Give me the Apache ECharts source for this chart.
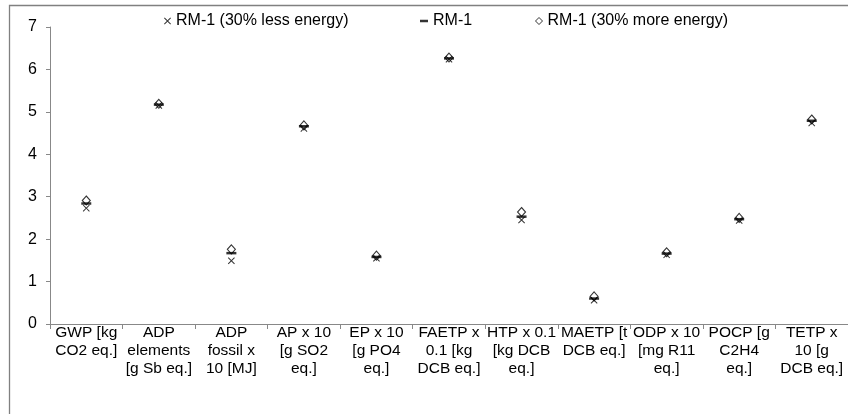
<!DOCTYPE html>
<html>
<head>
<meta charset="utf-8">
<script src="https://cdn.jsdelivr.net/npm/echarts@6/dist/echarts.min.js"></script>
<style>
html,body{margin:0;padding:0;background:#fff;}
#c{width:848px;height:414px;}
</style>
</head>
<body>
<div id="c"></div>
<script>
var categories = [
  'GWP [kg\nCO2 eq.]',
  'ADP\nelements\n[g Sb eq.]',
  'ADP\nfossil x\n10 [MJ]',
  'AP x 10\n[g SO2\neq.]',
  'EP x 10\n[g PO4\neq.]',
  'FAETP x\n0.1 [kg\nDCB eq.]',
  'HTP x 0.1\n[kg DCB\neq.]',
  'MAETP [t\nDCB eq.]',
  'ODP x 10\n[mg R11\neq.]',
  'POCP [g\nC2H4\neq.]',
  'TETP x\n10 [g\nDCB eq.]'
];
var lessEnergy = [2.73, 5.15, 1.49, 4.61, 1.55, 6.24, 2.45, 0.56, 1.63, 2.44, 4.74];
var baseCase   = [2.84, 5.17, 1.67, 4.66, 1.58, 6.26, 2.53, 0.60, 1.66, 2.47, 4.79];
var moreEnergy = [2.91, 5.19, 1.76, 4.68, 1.61, 6.28, 2.64, 0.65, 1.69, 2.50, 4.82];
var yTicks = [0, 1, 2, 3, 4, 5, 6, 7];
var seriesNames = ['RM-1 (30% less energy)', 'RM-1', 'RM-1 (30% more energy)'];

var FONT = '"Liberation Sans", Arial, sans-serif';
var crossPath = 'path://M0,1L1,0L5,4L9,0L10,1L6,5L10,9L9,10L5,6L1,10L0,9L4,5Z';

var chart = echarts.init(document.getElementById('c'), null, {renderer: 'canvas'});
function legendAt(name, left, icon, w, h, itemStyle) {
  return {
    data: [{name: name, icon: icon, itemStyle: itemStyle}],
    left: left, top: 13, padding: 0,
    itemWidth: w, itemHeight: h,
    textStyle: {fontFamily: FONT, fontSize: 16, color: '#000'},
    selectedMode: false
  };
}
chart.setOption({
  animation: false,
  backgroundColor: '#fff',
  graphic: [{
    type: 'rect',
    shape: {x: 9.5, y: 5.5, width: 860, height: 430},
    style: {fill: 'none', stroke: '#808080', lineWidth: 1.3},
    silent: true, z: -10
  }],
  legend: [
    legendAt(seriesNames[0], 164, crossPath, 7, 7, {color: '#000', borderWidth: 0}),
    legendAt(seriesNames[1], 420, 'rect', 8, 2.5, {color: '#000', borderWidth: 0}),
    legendAt(seriesNames[2], 535, 'diamond', 7, 7, {color: '#fff', borderColor: '#000', borderWidth: 1})
  ],
  grid: {left: 50, right: 0, top: 27, bottom: 90, containLabel: false},
  xAxis: {
    type: 'category',
    data: categories,
    boundaryGap: true,
    axisLine: {lineStyle: {color: '#888', width: 1}},
    axisTick: {show: true, length: 5, interval: 0, lineStyle: {color: '#888'}},
    axisLabel: {interval: 0, margin: 0, fontFamily: FONT, fontSize: 15.5, color: '#000', lineHeight: 18, align: 'center'},
    splitLine: {show: false}
  },
  yAxis: {
    type: 'value',
    min: yTicks[0], max: yTicks[yTicks.length - 1], interval: 1,
    axisLine: {show: true, lineStyle: {color: '#888', width: 1}},
    axisTick: {show: true, length: 4, lineStyle: {color: '#888'}},
    axisLabel: {margin: 13, fontFamily: FONT, fontSize: 16, color: '#000'},
    splitLine: {show: false}
  },
  series: [
    {
      name: seriesNames[0], type: 'scatter', data: lessEnergy,
      symbol: crossPath, symbolSize: 7,
      itemStyle: {color: '#000'}
    },
    {
      name: seriesNames[1], type: 'scatter', data: baseCase,
      symbol: 'rect', symbolSize: [10, 2.5],
      itemStyle: {color: '#000'}
    },
    {
      name: seriesNames[2], type: 'scatter', data: moreEnergy,
      symbol: 'diamond', symbolSize: [8, 9],
      itemStyle: {color: 'rgba(255,255,255,0)', borderColor: '#000', borderWidth: 1.1}
    }
  ]
});
</script>
</body>
</html>
